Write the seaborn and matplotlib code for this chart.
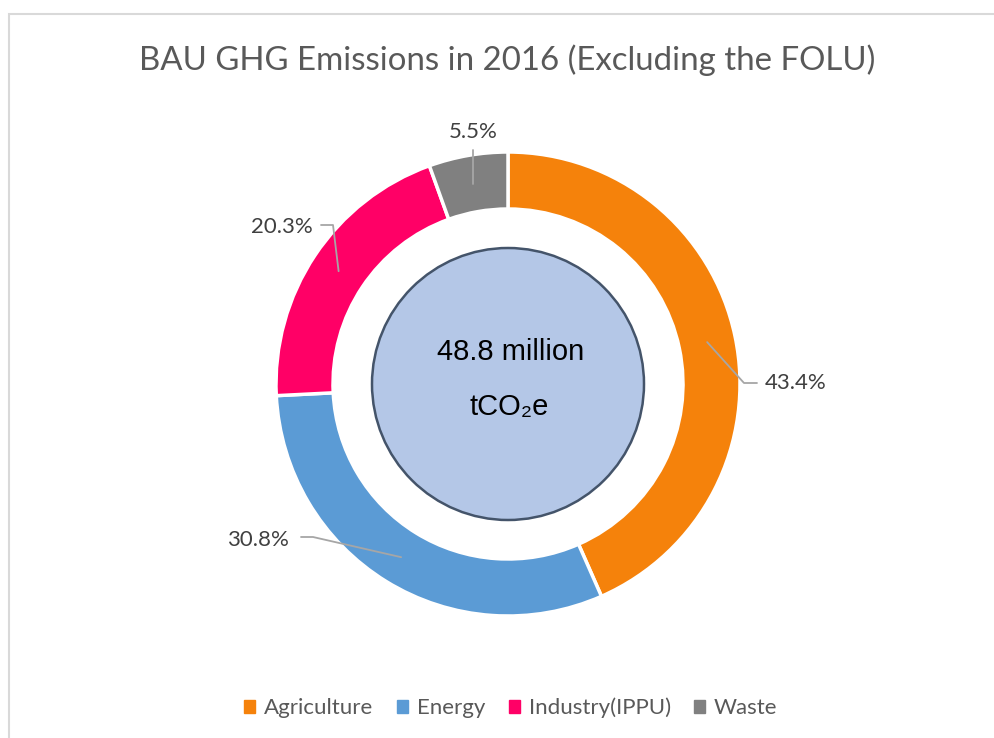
import numpy as np
import matplotlib
matplotlib.use("Agg")
import matplotlib.pyplot as plt
import seaborn as sns
from matplotlib.patches import Circle, Rectangle

# data
sectors = ["Agriculture", "Energy", "Industry(IPPU)", "Waste"]
shares = [43.4, 30.8, 20.3, 5.5]
colors = ["#F5820B", "#5B9BD5", "#FF0066", "#808080"]
total_label = ["48.8 million", "tCO\u2082e"]

# label placement (pixel positions of text, top-left origin)
label_pos = {
    "Agriculture": (796, 383, "left"),
    "Energy": (258, 540, "right"),
    "Industry(IPPU)": (282, 227, "right"),
    "Waste": (473, 132, "top"),
}

sns.set_theme(style="white")
plt.rcParams["font.family"] = ["Lato", "DejaVu Sans"]

W, H = 994, 738
fig = plt.figure(figsize=(W / 100, H / 100), dpi=100)
ax = fig.add_axes([0, 0, 1, 1])

cx, cy = 508, H - 384
R = 232
width = 57

wedges, _ = ax.pie(shares, colors=colors, startangle=90, counterclock=False,
                   radius=R, center=(cx, cy),
                   wedgeprops=dict(width=width, edgecolor="white", linewidth=2.5))

ax.set_xlim(0, W)
ax.set_ylim(0, H)
ax.set_aspect("equal")
ax.axis("off")

# outer frame
ax.add_patch(Rectangle((8.5, -10), W, H - 13.5 + 10, fill=False,
                       edgecolor="#D9D9D9", linewidth=1.5))

# centre circle
ax.add_patch(Circle((cx, cy), 136, facecolor="#B4C7E7", edgecolor="#44546A",
                    linewidth=1.8, zorder=3))
ax.text(cx + 3, H - 352, total_label[0], ha="center", va="center", fontsize=21,
        family=["Liberation Sans", "DejaVu Sans"], color="black", zorder=4)
ax.text(cx + 1, H - 407, total_label[1], ha="center", va="center", fontsize=21,
        family=["Liberation Sans", "DejaVu Sans"], color="black", zorder=4)

# percentage labels with leader lines
r_mid = R - width / 2
for w, name, val in zip(wedges, sectors, shares):
    ang = np.deg2rad((w.theta1 + w.theta2) / 2)
    px, py = cx + r_mid * np.cos(ang), cy + r_mid * np.sin(ang)
    tx, ty_top, side = label_pos[name]
    ty = H - ty_top
    if side == "left":
        pts = [(px, py), (tx - 52, ty), (tx - 39, ty)]
    elif side == "right":
        if name == "Energy":
            pts = [(px, py), (tx + 55, ty + 3), (tx + 43, ty + 3)]
        else:
            pts = [(px, py), (tx + 51, ty + 2), (tx + 39, ty + 2)]
    else:
        pts = [(px, py), (px, ty - 18)]
    xs, ys = zip(*pts)
    ax.plot(xs, ys, color="#A6A6A6", linewidth=1.3, zorder=2)
    ax.text(tx, ty, f"{val:.1f}%", ha="center", va="center", fontsize=16,
            color="#404040")

fig.text(507 / W, 1 - 60 / H, "BAU GHG Emissions in 2016 (Excluding the FOLU)",
         ha="center", va="center", fontsize=23.8, color="#595959")

handles = [Rectangle((0, 0), 1, 1, color=c) for c in colors]
fig.legend(handles, sectors, loc="center", bbox_to_anchor=(511 / W, 1 - 708 / H),
           ncol=4, frameon=False, fontsize=16, handlelength=0.5,
           handleheight=0.5, handletextpad=0.4, columnspacing=1.05,
           labelcolor="#595959")

fig.savefig("out.png", dpi=100)
